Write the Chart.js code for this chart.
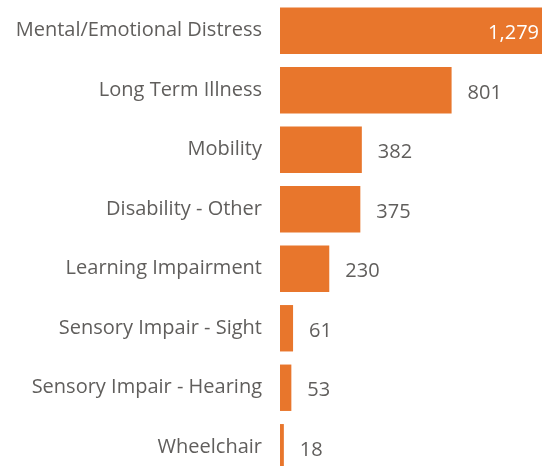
<!DOCTYPE html>
<html>
<head>
<meta charset="utf-8">
<script src="https://cdn.jsdelivr.net/npm/chart.js@4"></script>
<style>
  html, body { margin: 0; padding: 0; background: #fff; overflow: hidden; }
  #wrap { width: 542px; height: 480px; }
</style>
</head>
<body>
<div id="wrap"><canvas id="disability-bar" width="542" height="480"></canvas></div>
<script>
const disabilityLabels = ['Mental/Emotional Distress', 'Long Term Illness', 'Mobility', 'Disability - Other',
  'Learning Impairment', 'Sensory Impair - Sight', 'Sensory Impair - Hearing', 'Wheelchair'];
const disabilityCounts = [1279, 801, 382, 375, 230, 61, 53, 18];
const barColor = '#E8762C';
const textColor = '#605E5C';
const fontFamily = '"Open Sans", sans-serif';

// value labels at the end of each bar (inside, in white, when there is no room)
const valueLabels = {
  id: 'valueLabels',
  afterDatasetsDraw(chart) {
    const ctx = chart.ctx;
    const area = chart.chartArea;
    const meta = chart.getDatasetMeta(0);
    ctx.save();
    ctx.font = '20px ' + fontFamily;
    ctx.textBaseline = 'middle';
    meta.data.forEach(function (bar, i) {
      const text = disabilityCounts[i].toLocaleString('en-US');
      const w = ctx.measureText(text).width;
      const end = Math.min(bar.x, area.right);
      if (end + 16 + w <= area.right) {
        ctx.fillStyle = textColor;
        ctx.textAlign = 'left';
        ctx.fillText(text, end + 16, bar.y + 3);
      } else {
        ctx.fillStyle = '#ffffff';
        ctx.textAlign = 'right';
        ctx.fillText(text, end - 3, bar.y + 3);
      }
    });
    ctx.restore();
  }
};

const data = {
  labels: disabilityLabels,
  datasets: [{
    data: disabilityCounts,
    backgroundColor: barColor,
    borderWidth: 0,
    barPercentage: 0.78,
    categoryPercentage: 1
  }]
};

const options = {
  indexAxis: 'y',
  responsive: false,
  animation: false,
  layout: { padding: { top: 1, bottom: 3, left: 0, right: 0 } },
  scales: {
    x: {
      display: false,
      min: 0,
      max: 1223
    },
    y: {
      afterFit: function (scale) {
        scale.width = 280;
        scale.paddingTop = 0;
        scale.paddingBottom = 0;
      },
      grid: { display: false, drawTicks: false },
      border: { display: false },
      ticks: {
        color: textColor,
        padding: 18,
        font: { family: fontFamily, size: 20 }
      }
    }
  },
  plugins: {
    legend: { display: false },
    tooltip: { enabled: false }
  }
};

new Chart(document.getElementById('disability-bar'), {
  type: 'bar',
  data: data,
  options: options,
  plugins: [valueLabels]
});
</script>
</body>
</html>
